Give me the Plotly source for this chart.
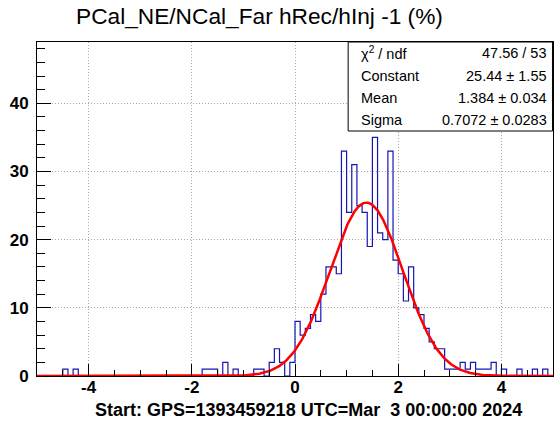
import numpy as np
import plotly.graph_objects as go

# ---- data ----
x_lo, x_hi, n_bins = -5.0, 5.0, 100
counts = [0, 0, 0, 0, 0, 1, 0, 1, 0, 0,
          0, 0, 0, 0, 0, 0, 0, 0, 0, 0,
          0, 0, 0, 0, 0, 0, 0, 0, 0, 0,
          0, 0, 1, 1, 1, 0, 2, 0, 1, 0,
          0, 0, 1, 1, 0, 2, 4, 2, 0, 2,
          8, 6, 7, 9, 8, 12, 16, 16, 15, 33,
          24, 31, 25, 24, 19, 35, 21, 20, 33, 17,
          15, 11, 16, 10, 9, 7, 5, 4, 4, 1,
          1, 1, 2, 1, 2, 1, 1, 1, 2, 0,
          1, 0, 0, 1, 0, 0, 1, 0, 1, 0]
fit_const, fit_mean, fit_sigma = 25.44, 1.384, 0.7072
stats_labels = ["χ<sup>2</sup> / ndf", "Constant", "Mean", "Sigma"]
stats_values = ["47.56 / 53", "25.44 ± 1.55", "1.384 ± 0.034", "0.7072 ± 0.0283"]
x_tick_vals = [-4, -2, 0, 2, 4]
x_tick_text = ["-4", "-2", "0", "2", "4"]
y_tick_vals = [0, 10, 20, 30, 40]
title_text = "PCal_NE/NCal_Far hRec/hInj -1 (%)"
footer_text = "Start: GPS=1393459218 UTC=Mar\u00a0\u00a03 00:00:00 2024"

edges = np.linspace(x_lo, x_hi, n_bins + 1)
step_x = list(edges)
step_y = list(counts) + [counts[-1]]

fx = np.linspace(x_lo, x_hi, 600)
fy = fit_const * np.exp(-0.5 * ((fx - fit_mean) / fit_sigma) ** 2)

FONT = "Liberation Sans, Arial, Helvetica, sans-serif"

fig = go.Figure()
fig.add_trace(go.Scatter(x=step_x, y=step_y, mode="lines", line_shape="hv",
                         line=dict(color="#1515b5", width=1.2), hoverinfo="skip"))
fig.add_trace(go.Scatter(x=fx, y=fy, mode="lines",
                         line=dict(color="#ff0000", width=2.5), hoverinfo="skip"))

fig.update_layout(
    width=560, height=424,
    margin=dict(l=37, r=7, t=42, b=48),
    paper_bgcolor="white", plot_bgcolor="white",
    showlegend=False,
    font=dict(family=FONT, color="black"),
)
GRID_DASH = "1px,2px"
fig.update_xaxes(range=[x_lo, x_hi], showline=True, mirror=True, linecolor="black", linewidth=1,
                 tickvals=x_tick_vals, ticktext=x_tick_text, ticks="inside", ticklen=12,
                 tickcolor="black", showgrid=True, gridcolor="#a8a8a8", griddash=GRID_DASH, gridwidth=1,
                 zeroline=False, tickfont=dict(size=17, family=FONT, weight="bold"),
                 ticklabelstandoff=-4,
                 minor=dict(ticks="inside", dtick=0.5, tick0=0, ticklen=6, tickcolor="black", showgrid=False))
fig.update_yaxes(range=[0, 49], showline=True, mirror=True, linecolor="black", linewidth=1,
                 tickvals=y_tick_vals, ticks="inside", ticklen=14, tickcolor="black",
                 showgrid=True, gridcolor="#a8a8a8", griddash=GRID_DASH, gridwidth=1,
                 zeroline=False, tickfont=dict(size=17, family=FONT, weight="bold"),
                 ticklabelstandoff=4,
                 minor=dict(ticks="inside", dtick=2, tick0=0, ticklen=8, tickcolor="black", showgrid=False))

# stats box
fig.add_shape(type="rect", xref="paper", yref="paper", x0=0.603, x1=0.999, y0=0.7335, y1=1.0,
              fillcolor="white", line=dict(color="black", width=1), layer="above")
row_y = [0.967, 0.8997, 0.832, 0.765]
for lab, val, yy in zip(stats_labels, stats_values, row_y):
    fig.add_annotation(xref="paper", yref="paper", x=0.624, y=yy, text=lab, showarrow=False,
                       xanchor="left", yanchor="middle", font=dict(size=14.5, family=FONT))
    fig.add_annotation(xref="paper", yref="paper", x=0.992, y=yy, text=val, showarrow=False,
                       xanchor="right", yanchor="middle", font=dict(size=14.5, family=FONT))

fig.add_annotation(xref="paper", yref="paper", x=(259 - 37) / 516, y=1 + (42 - 16) / 334,
                   text=title_text, showarrow=False, xanchor="center", yanchor="middle",
                   font=dict(size=22.7, family=FONT))
fig.add_annotation(xref="paper", yref="paper", x=(308.5 - 37) / 516, y=-(410 - 376) / 334,
                   text=footer_text, showarrow=False, xanchor="center", yanchor="middle",
                   font=dict(size=18, family=FONT, weight="bold"))

fig.write_html("out.html", config={"displayModeBar": False},
               post_script="document.body.style.margin='0';document.body.style.padding='0';")
